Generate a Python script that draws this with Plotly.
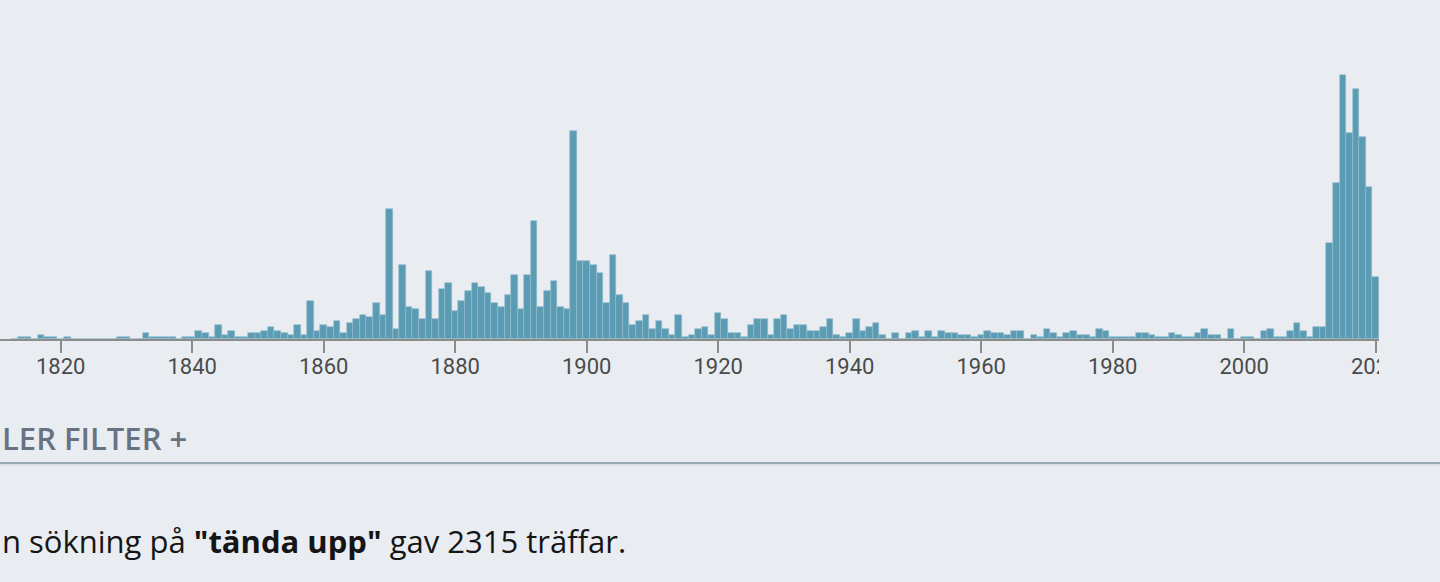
import plotly.graph_objects as go

# hits per year, search "tända upp"
years = list(range(1813, 2021))
counts = [
    0,
    1, 1, 0, 2, 1, 1, 0,                      # 1814-1820
    1, 0, 0, 0, 0, 0, 0, 0, 1, 1,             # 1821-1830
    0, 0, 3, 1, 1, 1, 1, 0, 1, 1,             # 1831-1840
    4, 3, 1, 7, 2, 4, 1, 1, 3, 3,             # 1841-1850
    4, 6, 4, 3, 2, 7, 2, 19, 4, 7,            # 1851-1860
    6, 9, 3, 8, 10, 12, 11, 18, 12, 65,       # 1861-1870
    5, 37, 16, 15, 10, 34, 10, 25, 28, 14,    # 1871-1880
    19, 24, 28, 26, 23, 18, 16, 22, 32, 15,   # 1881-1890
    32, 59, 16, 24, 29, 16, 15, 104, 39, 39,  # 1891-1900
    37, 33, 18, 42, 22, 18, 7, 9, 12, 5,      # 1901-1910
    9, 5, 2, 12, 1, 2, 5, 6, 2, 13,           # 1911-1920
    10, 3, 3, 1, 7, 10, 10, 2, 10, 12,        # 1921-1930
    5, 7, 7, 4, 4, 6, 10, 2, 1, 3,            # 1931-1940
    10, 4, 6, 8, 2, 0, 3, 0, 3, 4,            # 1941-1950
    1, 4, 1, 4, 3, 3, 2, 2, 1, 2,             # 1951-1960
    4, 3, 3, 2, 4, 4, 0, 2, 1, 5,             # 1961-1970
    3, 1, 3, 4, 2, 2, 1, 5, 4, 1,             # 1971-1980
    1, 1, 1, 3, 3, 2, 1, 1, 3, 2,             # 1981-1990
    1, 1, 3, 5, 2, 2, 0, 5, 0, 1,             # 1991-2000
    1, 0, 4, 5, 1, 1, 4, 8, 4, 1,             # 2001-2010
    6, 6, 48, 78, 132, 103, 125, 101, 76, 31  # 2011-2020
]
tick_years = [1820, 1840, 1860, 1880, 1900, 1920, 1940, 1960, 1980, 2000, 2020]

bg = "#e9edf2"

fig = go.Figure(go.Bar(
    x=years,
    y=counts,
    marker=dict(color="#5b9cb4", line=dict(color="#94bccb", width=0.6)),
    hoverinfo="x+y",
))

fig.update_layout(
    width=1440,
    height=582,
    margin=dict(l=0, r=61, t=59, b=243),
    paper_bgcolor=bg,
    plot_bgcolor=bg,
    bargap=0,
    showlegend=False,
    xaxis=dict(
        range=[1810.77, 2020.5],
        tickmode="array",
        tickvals=tick_years,
        ticks="outside",
        ticklen=12,
        tickwidth=2,
        tickcolor="#8c8c8c",
        ticklabelstandoff=-5,
        showline=True,
        linecolor="#8c8c8c",
        linewidth=2,
        showgrid=False,
        zeroline=False,
        tickfont=dict(family="Roboto", size=22, color="#4a4a4a"),
        fixedrange=True,
    ),
    yaxis=dict(range=[0, 140], visible=False, fixedrange=True),
)

# the page cuts the chart off at the right, hide the rest of the last label
fig.add_shape(type="rect", xref="paper", yref="paper",
              x0=1.0, x1=1.06, y0=-0.15, y1=-0.035,
              fillcolor=bg, line=dict(width=0), layer="above")

# divider line under the filter row
fig.add_shape(type="line", xref="paper", yref="paper",
              x0=0, x1=1.05, y0=-0.4429, y1=-0.4429,
              line=dict(color="#7f949f", width=1.3), layer="above")
fig.add_shape(type="line", xref="paper", yref="paper",
              x0=0, x1=1.05, y0=-0.449, y1=-0.449,
              line=dict(color="#d8dce1", width=1.5), layer="above")

fig.add_annotation(
    text="LER FILTER +", xref="paper", yref="paper",
    x=0, y=-0.3536, xanchor="left", yanchor="middle", showarrow=False,
    font=dict(family="Open Sans", size=31, color="#677380", weight=600),
)
fig.add_annotation(
    text='n sökning på <b>"tända upp"</b> gav 2315 träffar.',
    xref="paper", yref="paper",
    x=0, y=-0.72, xanchor="left", yanchor="middle", showarrow=False,
    font=dict(family="Open Sans", size=31, color="#151515"),
)

fig.write_html(
    "out.html",
    config={"displayModeBar": False},
    post_script="document.body.style.margin='0';document.body.style.background='%s';" % bg,
)
